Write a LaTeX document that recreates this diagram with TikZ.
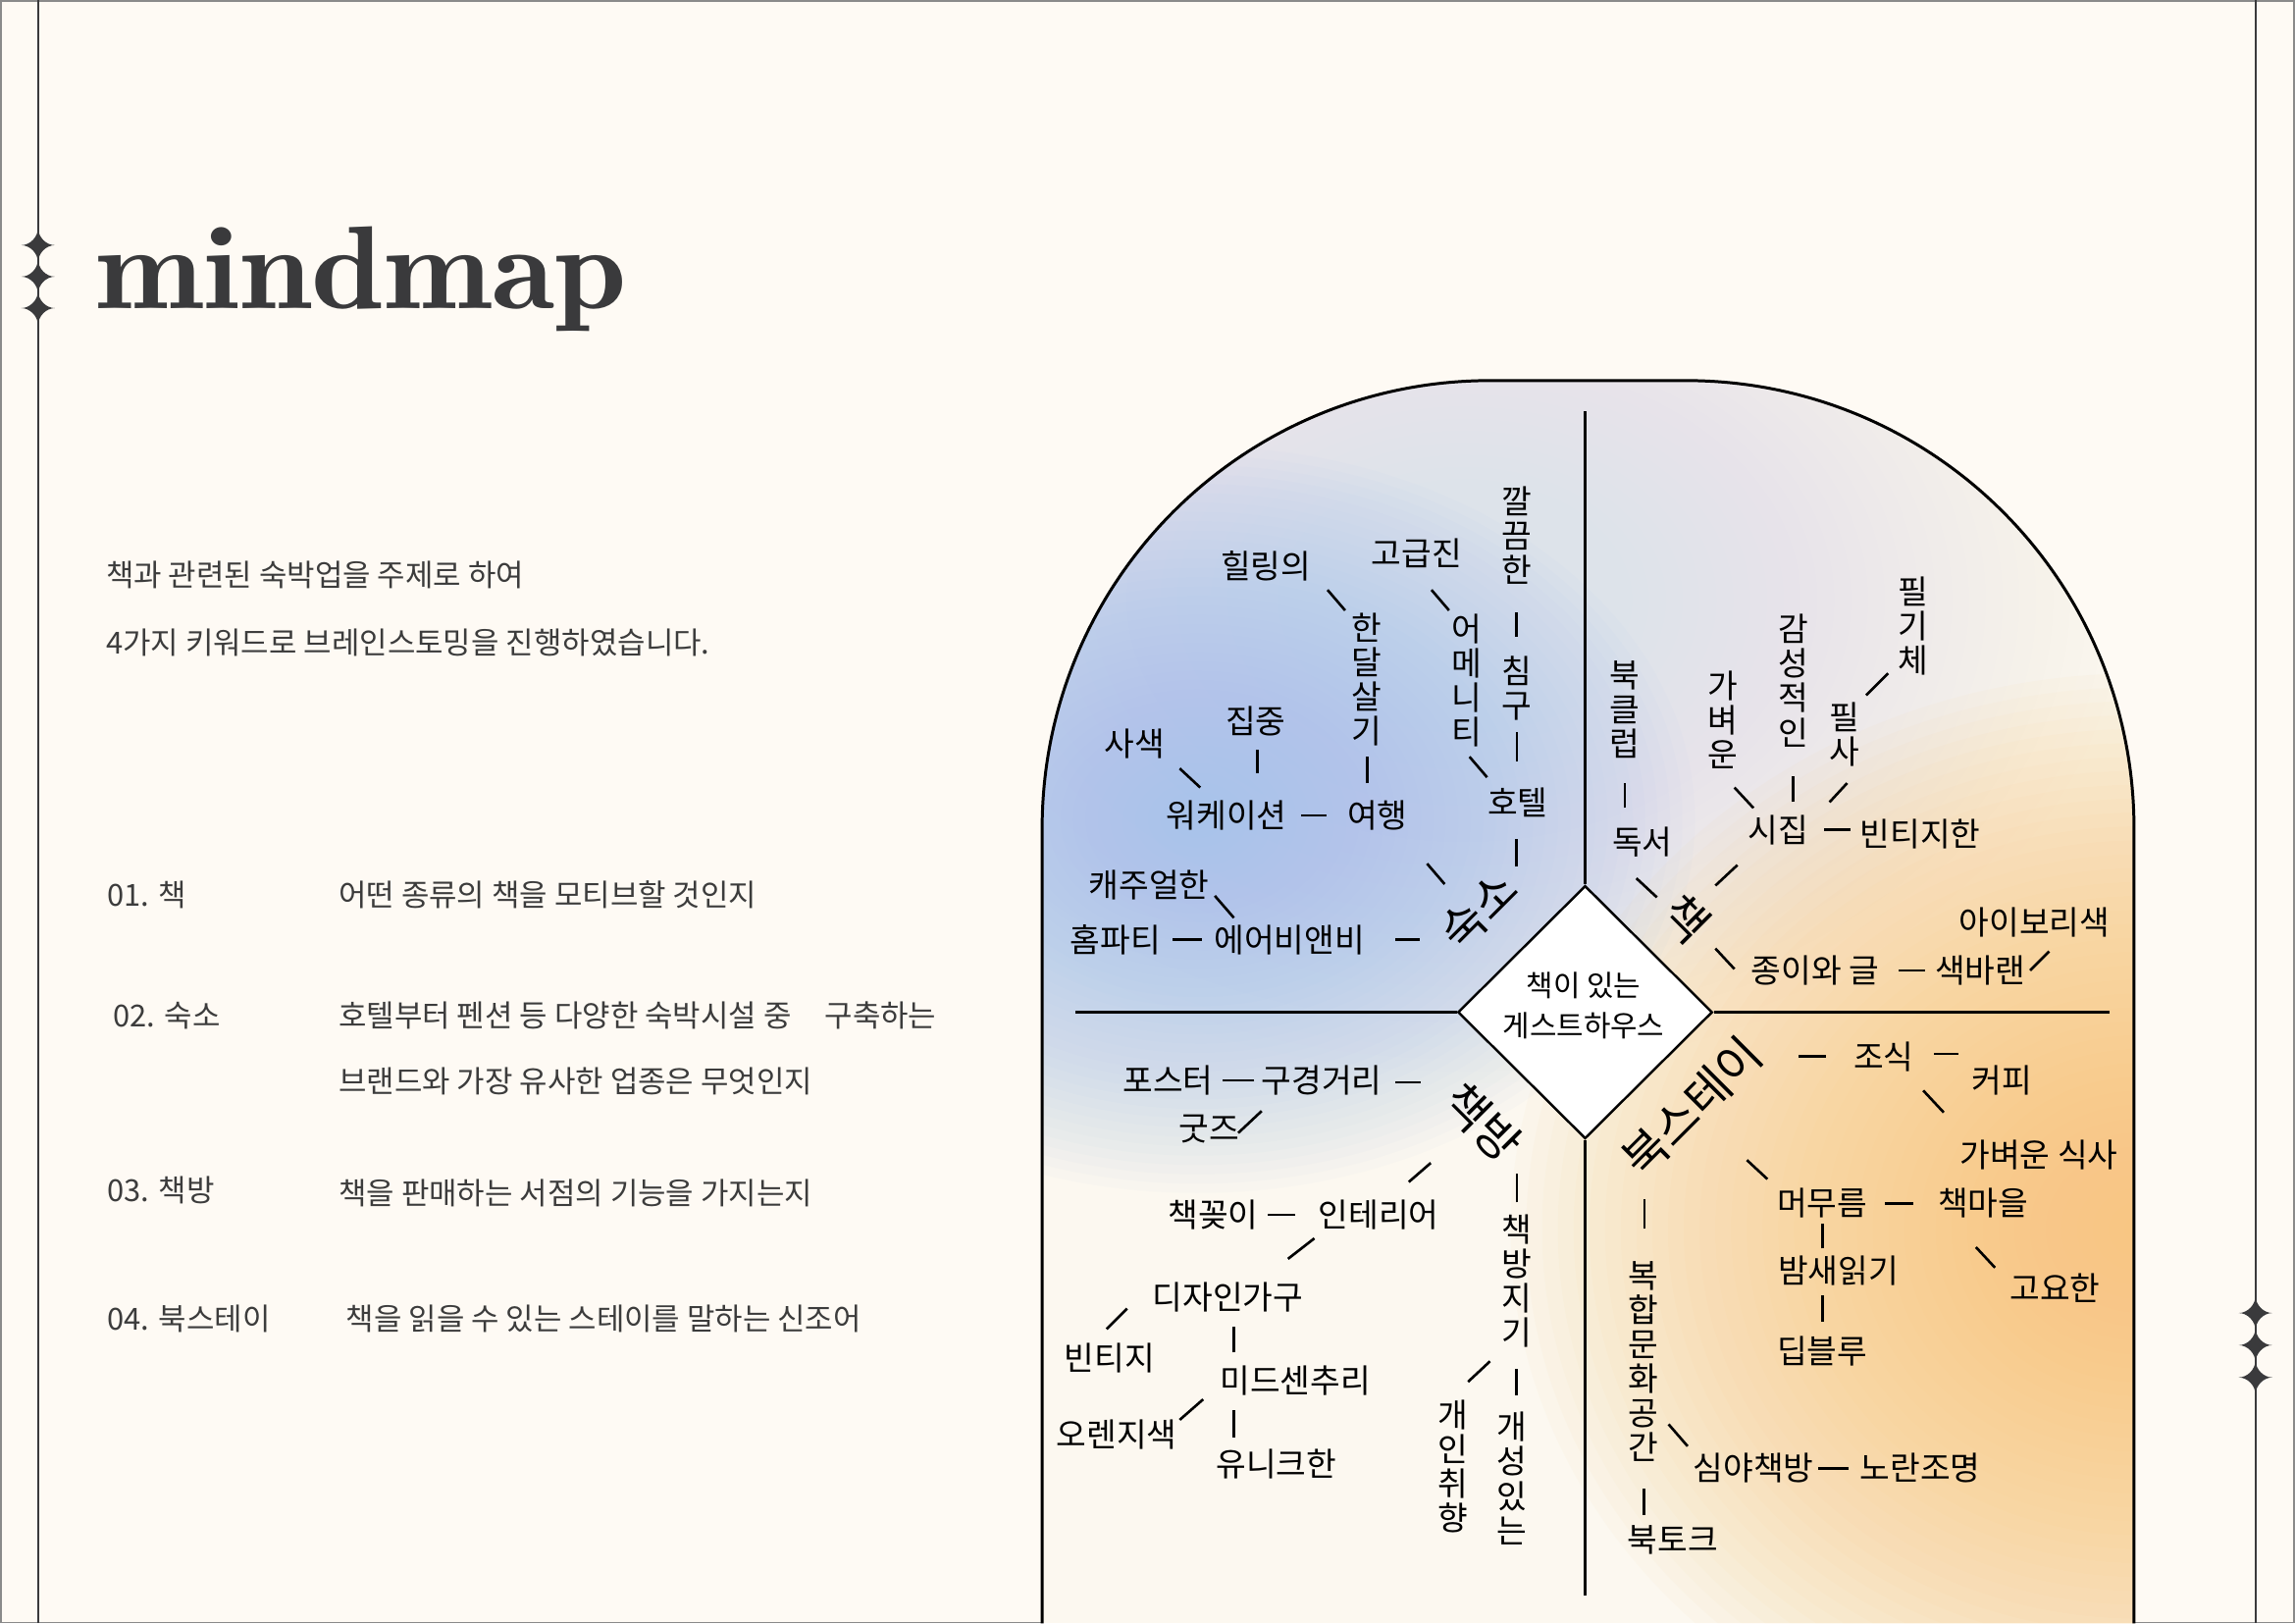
\documentclass[tikz,border=0pt]{standalone}
\usepackage{fontspec}
\newfontfamily\kr{Noto Sans CJK KR}
\newfontfamily\titlefont{lmromandemi10-regular.otf}
\usetikzlibrary{calc,shapes.geometric}
\definecolor{pagebg}{HTML}{FEFAF4}
\definecolor{ink}{HTML}{3A3A3C}
\definecolor{bodyink}{HTML}{3C3C3C}
\definecolor{bordergray}{HTML}{8A8A8A}
\definecolor{glowblue}{HTML}{A6C3EA}
\definecolor{glowgray}{HTML}{DDE3EA}
\definecolor{gloworange}{HTML}{F8C676}
\definecolor{archbase}{HTML}{FCF8F0}
\newcommand\lnk[6]{\draw[conn] ($(#1)!0.5!(#2)+(#3,#4)$) ++(#5,#6) -- ++({-2*(#5)},{-2*(#6)});}
% soft radial glow built from stacked translucent ellipses: colour, cx, cy, rx, ry, opacity per layer
\newcommand\softglow[6]{\foreach \k in {1,...,40}{\fill[#1, opacity=#6] (#2,#3) ellipse [x radius={#4/40*\k}, y radius={#5/40*\k}];}}
\tikzset{
  mmtext/.style={font=\kr\fontsize{9.5}{9.97}\selectfont, inner sep=0pt, align=center, text=black},
  kwtext/.style={font=\kr\fontsize{13.6}{15}\selectfont, inner sep=0pt, text=black},
  bodytxt/.style={font=\kr\fontsize{8.8}{10}\selectfont, inner sep=0pt, anchor=west, text=bodyink},
  conn/.style={line width=0.75pt, black},
  archline/.style={line width=0.85pt, black},
  divline/.style={line width=0.6pt, black},
  frameline/.style={line width=0.6pt, ink},
  hubnode/.style={diamond, draw=black, line width=0.7pt, fill=white, inner sep=0pt,
    minimum width=73.85pt, minimum height=73.4pt},
  hubtext/.style={align=center, inner sep=0pt, font=\kr\fontsize{8.5}{11.5}\selectfont},
  sparkle/.pic={\fill[ink] (0,-12) .. controls (0,-5.5) and (5.5,0) .. (11.5,0)
     .. controls (5.5,0) and (0,5.5) .. (0,12) .. controls (0,5.5) and (-5.5,0) .. (-11.5,0)
     .. controls (-5.5,0) and (0,-5.5) .. (0,-12) -- cycle;}
}
\begin{document}
\begin{tikzpicture}[x=0.014917cm, y=-0.014917cm]
\path[use as bounding box, fill=pagebg] (0,0) rectangle (1568,1109);
\draw[bordergray, line width=0.5pt] (0.6,0.6) rectangle (1567.4,1108.4);
% side frame lines with sparkles
\draw[frameline] (26,0) -- (26,1109);
\draw[frameline] (1541,0) -- (1541,1109);
\pic at (26,167.5) {sparkle};
\pic at (26,189) {sparkle};
\pic at (26,210.5) {sparkle};
\pic at (1541,897) {sparkle};
\pic at (1541,919) {sparkle};
\pic at (1541,941) {sparkle};
% title
\node[anchor=base west, inner sep=0pt, text=ink] (title) at (65,210.5)
  {\resizebox{5.415cm}{0.835cm}{\titlefont\fontsize{33.5}{40}\selectfont mindmap}};
% left text
\node[bodytxt] (intro1) at (72,393) {책과 관련된 숙박업을 주제로 하여};
\node[bodytxt] (intro2) at (72,439) {4가지 키워드로 브레인스토밍을 진행하였습니다.};
\node[bodytxt] (k1) at (73,611) {01. 책};
\node[bodytxt] (d1) at (231,611) {어떤 종류의 책을 모티브할 것인지};
\node[bodytxt] (k2) at (77,694) {02. 숙소};
\node[bodytxt] (d2a) at (231,694) {호텔부터 펜션 등 다양한 숙박시설 중\hspace{1.1em}구축하는};
\node[bodytxt] (d2b) at (231,739) {브랜드와 가장 유사한 업종은 무엇인지};
\node[bodytxt] (k3) at (73,813) {03. 책방};
\node[bodytxt] (d3) at (231,815) {책을 판매하는 서점의 기능을 가지는지};
\node[bodytxt] (k4) at (73,901) {04. 북스테이};
\node[bodytxt] (d4) at (236,901) {책을 읽을 수 있는 스테이를 말하는 신조어};
% arch with soft colour glows
\begin{scope}
\clip (712,1109) -- (712,566) .. controls (712,397) and (849,260) .. (1018,260) -- (1152,260)
  .. controls (1321,260) and (1458,397) .. (1458,566) -- (1458,1109) -- cycle;
\fill[archbase] (700,250) rectangle (1470,1109);
\softglow{glowgray}{1000}{410}{460}{330}{0.02}
\softglow{gloworange}{1462}{840}{430}{380}{0.045}
\softglow{glowblue}{818}{560}{340}{255}{0.045}
\end{scope}
\draw[archline] (712,1109) -- (712,566) .. controls (712,397) and (849,260) .. (1018,260) -- (1152,260)
  .. controls (1321,260) and (1458,397) .. (1458,566) -- (1458,1109);
% hub and dividers
\node[hubnode] (hub) at (1083,691.5) {};
\node[hubtext] (hubtxt) at (1082,687) {책이 있는\\게스트하우스};
\coordinate (vtop) at (1083,281);
\coordinate (vbot) at (1083,1090);
\coordinate (hleft) at (735,691.5);
\coordinate (hright) at (1441,691.5);
\draw[divline] (vtop) -- (hub.north);
\draw[divline] (hub.south) -- (vbot);
\draw[divline] (hleft) -- (hub.west);
\draw[divline] (hub.east) -- (hright);
% keywords
\node[kwtext, rotate=45] (sukso) at (1010,622) {숙소};
\node[kwtext, rotate=-45] (chaek) at (1152,628) {책};
\node[kwtext, rotate=-45] (chaekbang) at (1013,767) {책방};
\node[kwtext, rotate=45] (bookstay) at (1156,756) {북스테이};
% top-left
\node[mmtext] (kkal) at (1036,366) {깔\\끔\\한};
\node[mmtext] (chimgu) at (1036,470) {침\\구};
\node[mmtext] (hotel) at (1037,548) {호텔};
\node[mmtext] (gogeup) at (968,378) {고급진};
\node[mmtext] (amenity) at (1002,465) {어\\메\\니\\티};
\node[mmtext] (healing) at (865,387) {힐링의};
\node[mmtext] (handal) at (934,464) {한\\달\\살\\기};
\node[mmtext] (yeohaeng) at (941,557) {여행};
\node[mmtext] (workation) at (838,557) {워케이션};
\node[mmtext] (jipjung) at (858,493) {집중};
\node[mmtext] (sasaek) at (775,508) {사색};
\node[mmtext] (casual) at (785,605) {캐주얼한};
\node[mmtext] (homeparty) at (762,642) {홈파티};
\node[mmtext] (airbnb) at (881,642) {에어비앤비};
% top-right
\node[mmtext] (bookclub) at (1110,485) {북\\클\\럽};
\node[mmtext] (dokseo) at (1122,575) {독서};
\node[mmtext] (gabyeoun) at (1177,492) {가\\벼\\운};
\node[mmtext] (gamseong) at (1225,465) {감\\성\\적\\인};
\node[mmtext] (pilsa) at (1260,502) {필\\사};
\node[mmtext] (pilgiche) at (1307,428) {필\\기\\체};
\node[mmtext] (sijip) at (1215,567) {시집};
\node[mmtext] (vintagehan) at (1312,570) {빈티지한};
\node[mmtext] (jongi) at (1240,663) {종이와 글};
\node[mmtext] (faded) at (1353,663) {색바랜};
\node[mmtext] (ivory) at (1390,630) {아이보리색};
% bottom-left
\node[mmtext] (poster) at (798,738) {포스터};
\node[mmtext] (gugyeong) at (903,738) {구경거리};
\node[mmtext] (goods) at (826,771) {굿즈};
\node[mmtext] (chaekkoji) at (829,830) {책꽂이};
\node[mmtext] (interior) at (942,830) {인테리어};
\node[mmtext] (design) at (839,886) {디자인가구};
\node[mmtext] (vintage) at (758,928) {빈티지};
\node[mmtext] (midcentury) at (885,943) {미드센추리};
\node[mmtext] (orange) at (763,980) {오렌지색};
\node[mmtext] (unique) at (872,1000) {유니크한};
\node[mmtext] (jigi) at (1036,875) {책\\방\\지\\기};
\node[mmtext] (gaein) at (993,1002) {개\\인\\취\\향};
\node[mmtext] (gaeseong) at (1033,1010) {개\\성\\있\\는};
% bottom-right
\node[mmtext] (joshik) at (1287,722) {조식};
\node[mmtext] (coffee) at (1368,738) {커피};
\node[mmtext] (lightmeal) at (1393,789) {가벼운 식사};
\node[mmtext] (meomureum) at (1245,822) {머무름};
\node[mmtext] (chaekmaeul) at (1355,822) {책마을};
\node[mmtext] (goyohan) at (1404,880) {고요한};
\node[mmtext] (bamsae) at (1256,868) {밤새읽기};
\node[mmtext] (deepblue) at (1245,923) {딥블루};
\node[mmtext] (bokhap) at (1123,930) {복\\합\\문\\화\\공\\간};
\node[mmtext] (simya) at (1198,1003) {심야책방};
\node[mmtext] (noran) at (1312,1003) {노란조명};
\node[mmtext] (booktalk) at (1143,1052) {북토크};
% connectors: top-left
\lnk{kkal}{chimgu}{0}{8.5}{0}{8.5}
\lnk{chimgu}{hotel}{0}{1}{0}{10}
\lnk{hotel}{sukso}{12.5}{-2.5}{0}{9.5}
\lnk{gogeup}{amenity}{-1}{-11.5}{6}{7}
\lnk{amenity}{hotel}{-9.5}{17.5}{6}{7}
\lnk{healing}{handal}{13.5}{-15.5}{6}{7}
\lnk{handal}{yeohaeng}{-3.5}{15.5}{0}{9}
\lnk{workation}{yeohaeng}{8}{0}{8.5}{0}
\lnk{jipjung}{workation}{11}{-5}{0}{8}
\lnk{sasaek}{workation}{6.5}{-1}{7}{6.5}
\lnk{yeohaeng}{sukso}{5.5}{7.5}{6}{7}
\lnk{casual}{airbnb}{3.5}{-4}{6.5}{7.5}
\lnk{homeparty}{airbnb}{-10.5}{0}{10}{0}
\lnk{airbnb}{sukso}{16}{10}{8.5}{0}
% connectors: top-right
\lnk{bookclub}{dokseo}{-6}{13.5}{0}{8.5}
\lnk{dokseo}{chaek}{-12}{5}{7}{6.5}
\lnk{gabyeoun}{sijip}{-4.5}{15.5}{6.5}{7}
\lnk{gamseong}{sijip}{5}{23}{0}{9}
\lnk{pilsa}{sijip}{18.5}{7}{6}{-6.5}
\lnk{pilgiche}{pilsa}{-1}{2.5}{7.5}{-7.5}
\lnk{sijip}{vintagehan}{-8.5}{-1.5}{9}{0}
\lnk{sijip}{chaek}{-4}{0.5}{7.5}{-7}
\lnk{chaek}{jongi}{-17.5}{9.5}{6.5}{7}
\lnk{jongi}{faded}{9.5}{0}{9}{0}
\lnk{faded}{ivory}{22}{10}{6.5}{-6.5}
% connectors: bottom-left
\lnk{poster}{gugyeong}{-4.5}{0}{11}{0}
\lnk{gugyeong}{chaekbang}{4}{-13}{8.5}{0}
\lnk{goods}{gugyeong}{-10.5}{12}{8}{-7.5}
\lnk{interior}{chaekbang}{-7.5}{2.5}{7.5}{-6.5}
\lnk{chaekkoji}{interior}{-10}{0}{9.5}{0}
\lnk{design}{interior}{-1.5}{-5}{9}{-7}
\lnk{design}{vintage}{-35.5}{-6}{7}{-7}
\lnk{design}{midcentury}{-19}{0.5}{0}{9}
\lnk{midcentury}{orange}{-10}{1.5}{8}{-7}
\lnk{midcentury}{unique}{-35.5}{1}{0}{9.5}
\lnk{chaekbang}{jigi}{12}{-9.5}{0}{10}
\lnk{jigi}{gaein}{-4}{-1.5}{7.5}{-7}
\lnk{jigi}{gaeseong}{1.5}{1.5}{0}{9}
% connectors: bottom-right
\lnk{bookstay}{joshik}{16.5}{-17.5}{9.5}{0}
\lnk{joshik}{coffee}{2}{-10}{8.5}{0}
\lnk{joshik}{lightmeal}{-19}{-3}{7}{7.5}
\lnk{bookstay}{meomureum}{0}{10}{7}{6.5}
\lnk{meomureum}{chaekmaeul}{-2.5}{0}{9.5}{0}
\lnk{chaekmaeul}{goyohan}{-23}{8}{6.5}{7}
\lnk{meomureum}{bamsae}{-5.5}{-0.5}{0}{8.5}
\lnk{bamsae}{deepblue}{-5.5}{-1.5}{0}{9}
\lnk{bookstay}{bokhap}{-16}{-13.5}{0}{10}
\lnk{bokhap}{simya}{-14}{14}{6.5}{7.5}
\lnk{simya}{noran}{-2.5}{0}{10.5}{0}
\lnk{bokhap}{booktalk}{-10}{35}{0}{9}
\end{tikzpicture}
\end{document}
